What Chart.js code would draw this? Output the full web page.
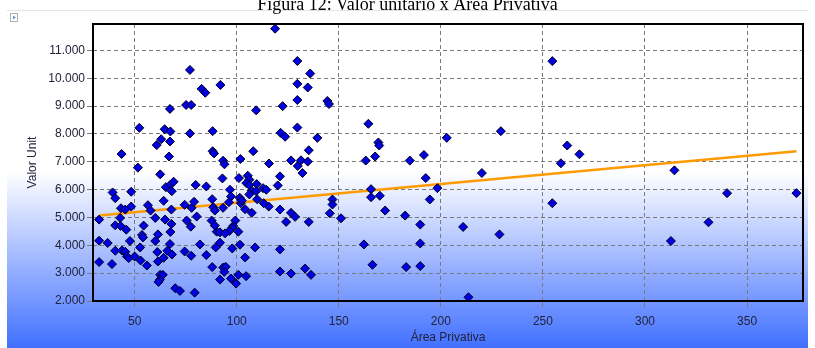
<!DOCTYPE html>
<html>
<head>
<meta charset="utf-8">
<script src="https://cdn.jsdelivr.net/npm/chart.js@4.4.1/dist/chart.umd.min.js"></script>
<style>
  html, body { margin: 0; padding: 0; background: #ffffff; }
  #wrap { position: relative; width: 815px; height: 348px; overflow: hidden; }
  #title { position: absolute; left: 0; top: -5px; width: 815px; text-align: center;
           font-family: "Liberation Serif", "Times New Roman", serif; font-size: 18px; line-height: 18px;
           color: #000; z-index: 2; }
  canvas { position: absolute; left: 0; top: 0; }
</style>
</head>
<body>
<div id="wrap">
  <div id="title">Figura 12: Valor unitário x Área Privativa</div>
  <canvas id="c" width="815" height="348"></canvas>
</div>
<script>
// ---- data ----
const areaPrivativa = [
  77.1, 67.3, 75.2, 77.7, 52.3, 64.7, 67.5, 77.1, 63.0, 67.3, 60.8, 43.6, 66.8,
  118.8, 122.5, 109.5, 121.5, 123.7, 88.2, 82.8, 84.6, 92.0, 88.2, 88.9, 108.1, 101.8, 93.3, 94.0,
  129.7, 129.7, 129.7, 129.7, 115.8, 126.6, 136.0, 134.8, 144.4, 145.2, 164.5, 139.5, 229.4, 202.9,
  169.4, 169.8, 135.3, 167.8, 191.7, 131.5, 134.8, 129.9, 163.2, 184.8, 132.2, 121.2, 220.1, 192.6,
  198.3, 165.8, 165.8, 170.1, 194.6, 146.9, 146.9, 145.6, 121.2, 126.6, 128.6, 124.2, 135.3, 151.1,
  172.7, 182.5, 189.9, 210.9, 228.7, 121.2, 162.3, 189.9, 121.2, 126.6, 133.5, 136.4, 166.5, 183.0,
  189.9, 213.5, 254.6, 261.9, 267.9, 258.8, 314.4, 254.6, 340.2, 374.2, 331.1, 312.7,
  51.6, 62.5, 65.3, 67.5, 69.1, 68.2, 39.2, 40.5, 48.3, 43.3, 45.4, 48.3, 56.5, 57.8, 64.2, 68.0,
  74.5, 79.9, 77.9, 32.6, 42.9, 60.1, 64.9, 40.5, 43.1, 45.9, 54.4, 68.0, 75.5, 77.5, 67.5, 61.4,
  53.6, 54.1, 60.1, 47.7, 32.6, 36.8, 52.7, 67.3, 66.0, 68.3, 61.1, 40.5, 43.8, 45.4, 46.2, 47.1,
  50.0, 64.2, 77.7, 74.5, 52.9, 56.0, 32.6, 38.9, 61.4, 62.5, 63.8, 62.4, 61.7, 69.9, 72.2, 79.4,
  85.1, 93.0, 101.1, 105.4, 106.2, 104.7, 106.2, 109.8, 112.9, 114.5, 120.1, 107.4, 109.5, 96.7,
  97.2, 101.5, 102.0, 102.5, 96.2, 93.3, 88.5, 89.3, 88.0, 79.1, 104.1, 107.4, 115.7, 99.3, 98.3,
  97.7, 96.4, 106.2, 110.0, 113.2, 80.4, 87.7, 100.8, 90.2, 91.8, 94.3, 82.0, 91.8, 89.7, 97.8,
  101.6, 109.0, 85.1, 104.1, 88.0, 93.4, 94.6, 93.9, 91.8, 97.2, 100.8, 104.6, 99.7, 89.3
];
const valorUnit = [
  10300, 8900, 9040, 9040, 8220, 8170, 8090, 8020, 7810, 7730, 7600, 7280, 7190,
  11780, 9000, 8850, 8040, 7900, 8100, 9620, 9480, 9760, 7380, 7300, 7380, 7100, 7040, 6910,
  10620, 9800, 9220, 8230, 6940, 7050, 10170, 9670, 9185, 9075, 8365, 7860, 8100, 7860,
  7695, 7585, 7415, 7190, 7245, 7054, 7007, 6848, 7043, 7043, 6596, 6477, 6596, 6415,
  6054, 6018, 5729, 5780, 5646, 5646, 5466, 5152, 5285, 5166, 5022, 4841, 4841, 4971,
  5249, 5068, 4744, 4660, 4393, 3852, 4032, 4068, 3058, 2986, 3166, 2939, 3300, 3217,
  3253, 2134, 10617, 7585, 7270, 6946, 6693, 5513, 5874, 5874, 4827, 4155,
  6790, 6549, 6090, 6177, 6285, 5946, 5899, 5693, 5924, 5332, 5285, 5393, 5440, 5249, 5599, 5285,
  5455, 6170, 5346, 4924, 4985, 4985, 4924, 4718, 4697, 4563, 4708, 4769, 4888, 4671, 4480, 4393,
  4372, 4285, 4155, 4155, 4166, 4083, 3924, 4047, 3805, 3671, 3758, 3805, 3816, 3769, 3599, 3541,
  3599, 3552, 3625, 3780, 3455, 3274, 3397, 3325, 3419, 2939, 2939, 2769, 2686, 2458, 2361, 2300,
  6115, 6404, 6415, 6501, 6357, 6235, 6162, 6199, 6054, 5996, 6151, 5960, 5946, 5996,
  5754, 5707, 5513, 5610, 5549, 5346, 5368, 5249, 5657, 5563, 5296, 5166, 5393, 4888, 4697,
  4624, 4516, 5827, 5657, 5513, 5032, 4888, 4491, 4491, 4466, 4430, 4032, 4094, 3924, 3888,
  4022, 3924, 3650, 3563, 3217, 3202, 3227, 3047, 2769, 2805, 2939, 2892, 2625, 4707
];
const trendX = [32.6, 374.2];
const trendY = [5070, 7380];
const xTicks = [50, 100, 150, 200, 250, 300, 350];
const xTickLabels = ['50', '100', '150', '200', '250', '300', '350'];
const yTicks = [2000, 3000, 4000, 5000, 6000, 7000, 8000, 9000, 10000, 11000];
const yTickLabels = ['2.000', '3.000', '4.000', '5.000', '6.000', '7.000', '8.000', '9.000', '10.000', '11.000'];
const xTitle = 'Área Privativa';
const yTitle = 'Valor Unit';

// ---- build ----
const scatterPts = areaPrivativa.map((x, i) => ({ x: x, y: valorUnit[i] }));
const trendPts = trendX.map((x, i) => ({ x: x, y: trendY[i] }));

const bgPlugin = {
  id: 'bg',
  beforeDraw(chart) {
    const ctx = chart.ctx;
    ctx.save();
    const g = ctx.createLinearGradient(0, 172, 0, 348);
    g.addColorStop(0, '#ffffff');
    g.addColorStop(1, '#4170ff');
    ctx.fillStyle = '#ffffff';
    ctx.fillRect(0, 0, chart.width, chart.height);
    ctx.fillStyle = g;
    ctx.fillRect(7, 10, 801, 338);
    ctx.strokeStyle = '#e4e4e4';
    ctx.lineWidth = 1;
    ctx.beginPath(); ctx.moveTo(7, 10.5); ctx.lineTo(808, 10.5); ctx.stroke();
    // small toolbar glyph at top-left
    ctx.strokeStyle = '#b0b0b0';
    ctx.strokeRect(10.5, 13.5, 7, 8);
    ctx.fillStyle = '#7090c0';
    ctx.beginPath(); ctx.moveTo(13, 15.5); ctx.lineTo(16, 17.5); ctx.lineTo(13, 19.5); ctx.closePath(); ctx.fill();
    ctx.restore();
  },
  afterDraw(chart) {
    const a = chart.chartArea, ctx = chart.ctx;
    ctx.save();
    ctx.strokeStyle = '#000000';
    ctx.lineWidth = 2;
    ctx.strokeRect(a.left, a.top, a.right - a.left, a.bottom - a.top);
    ctx.restore();
  }
};

new Chart(document.getElementById('c'), {
  type: 'scatter',
  data: {
    datasets: [
      {
        type: 'scatter',
        label: 'Valor Unit',
        data: scatterPts,
        pointStyle: 'rectRot',
        pointRadius: 4.5,
        pointHoverRadius: 4.5,
        backgroundColor: '#0000e0',
        borderColor: '#000022',
        borderWidth: 1,
        order: 0
      },
      {
        type: 'line',
        label: 'Tendência',
        data: trendPts,
        borderColor: '#ff9a00',
        borderWidth: 2.5,
        pointRadius: 0,
        fill: false,
        order: 1
      }
    ]
  },
  options: {
    responsive: false,
    animation: false,
    devicePixelRatio: 1,
    layout: { padding: { left: 0, top: 24, right: 12, bottom: 0 } },
    plugins: { legend: { display: false }, tooltip: { enabled: false }, title: { display: false } },
    scales: {
      x: {
        type: 'linear',
        min: 29.6,
        max: 377.4,
        afterBuildTicks(scale) { scale.ticks = xTicks.map(v => ({ value: v })); },
        afterFit(scale) { scale.height = 47; },
        ticks: {
          callback(value, index) { return xTickLabels[index]; },
          font: { family: 'Liberation Sans', size: 12 },
          color: '#22223a',
          padding: 7,
          maxRotation: 0
        },
        grid: { color: '#7a7a7a', lineWidth: 1, tickLength: 6, tickColor: '#7a7a7a' },
        border: { display: false, dash: [4, 3] },
        title: {
          display: true, text: xTitle,
          font: { family: 'Liberation Sans', size: 12 },
          color: '#22223a',
          padding: { top: 0, bottom: 3 }
        }
      },
      y: {
        type: 'linear',
        min: 2000,
        max: 11950,
        afterBuildTicks(scale) { scale.ticks = yTicks.map(v => ({ value: v })); },
        afterFit(scale) { scale.width = 93; },
        ticks: {
          callback(value, index) { return yTickLabels[index]; },
          font: { family: 'Liberation Sans', size: 12 },
          color: '#22223a',
          padding: 2
        },
        grid: { color: '#7a7a7a', lineWidth: 1, tickLength: 6, tickColor: '#7a7a7a' },
        border: { display: false, dash: [4, 3] },
        title: {
          display: true, text: yTitle,
          font: { family: 'Liberation Sans', size: 12 },
          color: '#22223a',
          padding: { top: 25, bottom: 0 }
        }
      }
    }
  },
  plugins: [bgPlugin]
});
</script>
</body>
</html>
